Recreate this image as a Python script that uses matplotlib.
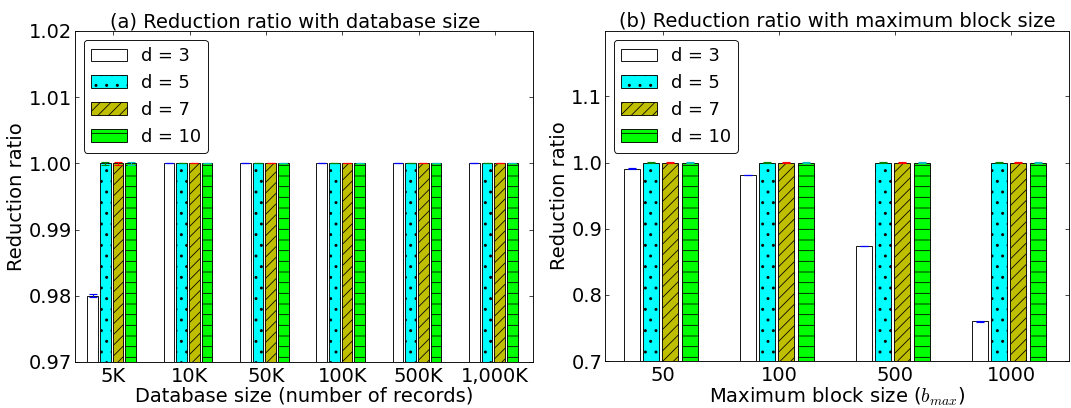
import numpy as np
import matplotlib
matplotlib.use("Agg")
import matplotlib.pyplot as plt

# ------------------------------------------------------------
# Data
# ------------------------------------------------------------
db_sizes = ["5K", "10K", "50K", "100K", "500K", "1,000K"]
block_sizes = ["50", "100", "500", "1000"]
d_labels = ["d = 3", "d = 5", "d = 7", "d = 10"]

# (a) reduction ratio vs database size
db_d3 = [0.9800, 1.0, 1.0, 1.0, 1.0, 1.0]
db_d5 = [1.0, 1.0, 1.0, 1.0, 1.0, 1.0]
db_d7 = [1.0, 1.0, 1.0, 1.0, 1.0, 1.0]
db_d10 = [1.0, 1.0, 1.0, 1.0, 1.0, 1.0]
db_d3_err = [0.0002, 0.0, 0.0, 0.0, 0.0, 0.0]
db_d5_err = [0.00025, 0.0, 0.0, 0.0, 0.0, 0.0]
db_d7_err = [0.00025, 0.0, 0.0, 0.0, 0.0, 0.0]
db_d10_err = [0.00025, 0.0, 0.0, 0.0, 0.0, 0.0]

# (b) reduction ratio vs maximum block size
bm_d3 = [0.991, 0.981, 0.874, 0.760]
bm_d5 = [1.0, 1.0, 1.0, 1.0]
bm_d7 = [1.0, 1.0, 1.0, 1.0]
bm_d10 = [1.0, 1.0, 1.0, 1.0]
bm_d3_err = [0.0005, 0.0005, 0.0005, 0.0005]
bm_d5_err = [0.0005, 0.0005, 0.0005, 0.0005]
bm_d7_err = [0.0005, 0.0005, 0.0005, 0.0005]
bm_d10_err = [0.0005, 0.0005, 0.0005, 0.0005]

# ------------------------------------------------------------
# Style
# ------------------------------------------------------------
plt.rcParams["font.family"] = "DejaVu Sans"
plt.rcParams["mathtext.fontset"] = "cm"
plt.rcParams["font.size"] = 22
plt.rcParams["xtick.direction"] = "in"
plt.rcParams["ytick.direction"] = "in"
plt.rcParams["xtick.top"] = True
plt.rcParams["ytick.right"] = True
plt.rcParams["xtick.major.size"] = 4
plt.rcParams["ytick.major.size"] = 4
plt.rcParams["xtick.major.pad"] = 6
plt.rcParams["ytick.major.pad"] = 3
plt.rcParams["hatch.linewidth"] = 0.9
plt.rcParams["axes.linewidth"] = 1.0

face_colors = ["white", "#00ffff", "#bfbf00", "#00ff00"]
hatches = ["", ".", "//", "-"]
err_colors = ["b", "g", "r", "c"]

width = 0.14
step = 1.0 / 6


def draw(ax, series, errors, ticklabels, ylim, yticks, yfmt, xlabel, title,
         title_x=0.5):
    x = np.arange(len(ticklabels))
    for j in range(4):
        ax.bar(x - 0.34 + j * step, series[j], width, align="edge",
               color=face_colors[j], edgecolor="black", linewidth=1.0,
               hatch=hatches[j], label=d_labels[j], zorder=2)
        ax.errorbar(x - 0.34 + j * step + width / 2, series[j], yerr=errors[j],
                    fmt="none", ecolor=err_colors[j], capsize=4,
                    elinewidth=1.3, capthick=1.3, zorder=3)
    ax.set_xlim(-0.5, len(ticklabels) - 0.5)
    ax.set_ylim(*ylim)
    ax.set_xticks(x)
    ax.set_xticklabels(ticklabels)
    ax.set_yticks(yticks)
    ax.set_yticklabels([yfmt % v for v in yticks])
    ax.set_xlabel(xlabel, labelpad=0)
    ax.set_ylabel("Reduction ratio", labelpad=3)
    ax.set_title(title, fontsize=22, pad=3, x=title_x)
    leg = ax.legend(loc="upper left", fancybox=True, framealpha=1, fontsize=20)
    leg.get_frame().set_edgecolor("black")
    leg.get_frame().set_linewidth(1.0)


fig = plt.figure(figsize=(1071 / 64, 408 / 64), dpi=64)

ax1 = fig.add_axes([75 / 1071, 46 / 408, 458 / 1071, 331 / 408])
draw(ax1,
     [db_d3, db_d5, db_d7, db_d10],
     [db_d3_err, db_d5_err, db_d7_err, db_d10_err],
     db_sizes, (0.97, 1.02), [0.97, 0.98, 0.99, 1.00, 1.01, 1.02], "%.2f",
     "Database size (number of records)",
     "(a) Reduction ratio with database size", title_x=0.48)

ax2 = fig.add_axes([605 / 1071, 47 / 408, 464 / 1071, 330 / 408])
draw(ax2,
     [bm_d3, bm_d5, bm_d7, bm_d10],
     [bm_d3_err, bm_d5_err, bm_d7_err, bm_d10_err],
     block_sizes, (0.7, 1.199), [0.7, 0.8, 0.9, 1.0, 1.1], "%.1f",
     "Maximum block size ($b_{max}$)",
     "(b) Reduction ratio with maximum block size")

fig.savefig("out.png", dpi=64)
